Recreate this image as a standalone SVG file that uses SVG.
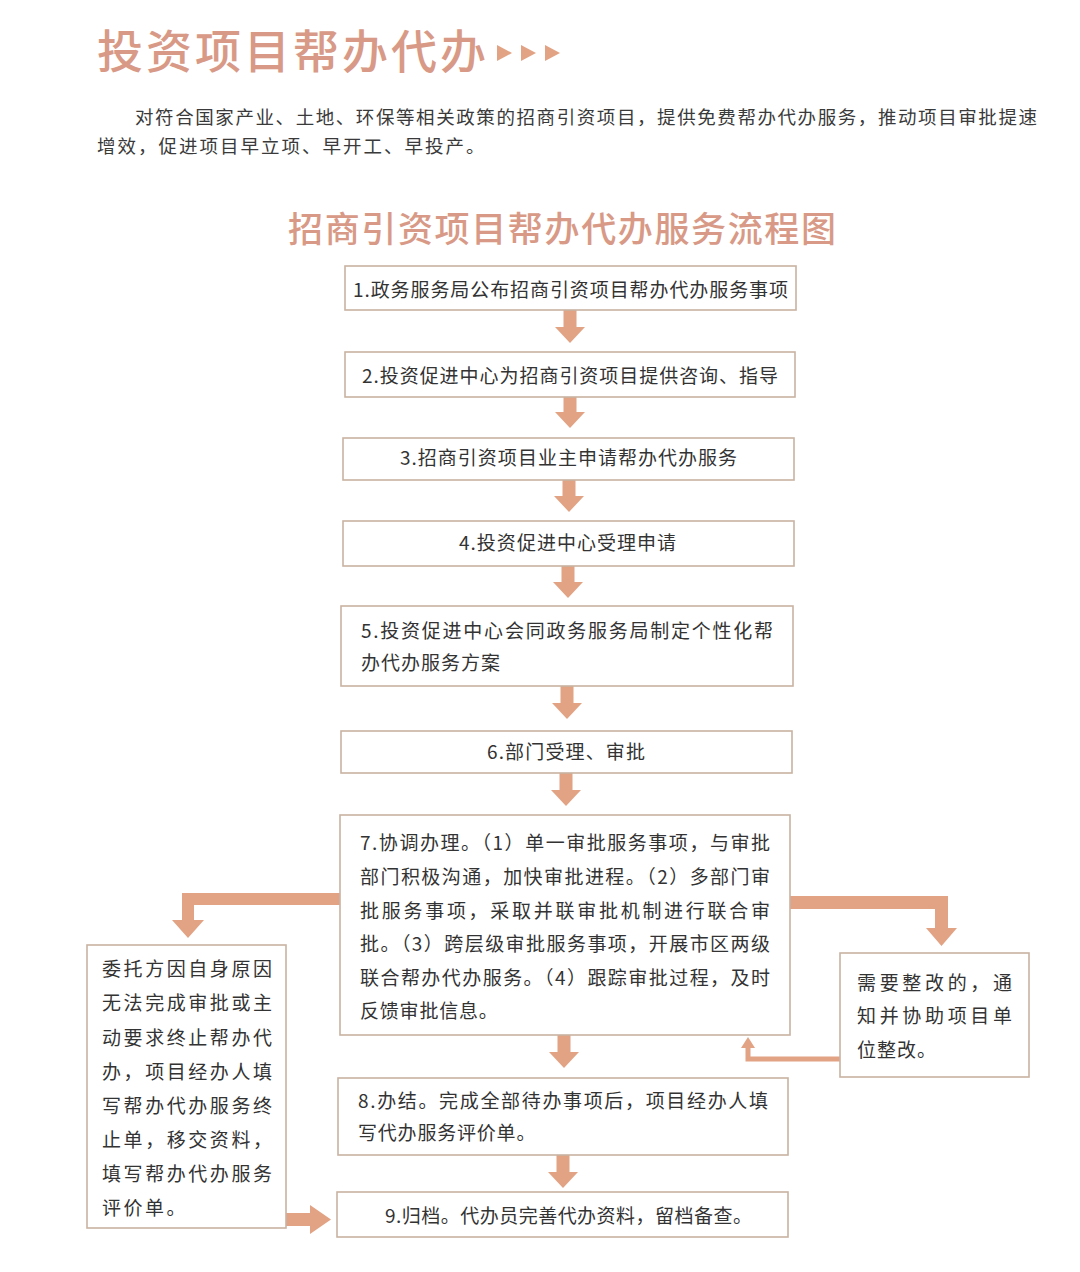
<svg xmlns="http://www.w3.org/2000/svg" width="1080" height="1272" viewBox="0 0 1080 1272">
<style>
text{font-family:"Noto Sans CJK SC","Noto Sans",sans-serif;fill:#333}
.t{fill:#d89a86;font-weight:500}
.p{font-size:18.5px;fill:#3a3a3a}
.b{font-size:19px}
.box{fill:#fff;stroke:#c9b3a2;stroke-width:1.6}
.arr{fill:#e2a384}
.fb{fill:none;stroke:#e2a384;stroke-width:5}
</style>
<rect width="1080" height="1272" fill="#fff"/>
<g id="header">
<text class="t" x="97" y="68" font-size="46" letter-spacing="3">投资项目帮办代办</text>
<polygon class="arr" points="497,45 512,53 497,61"/>
<polygon class="arr" points="521,45 536,53 521,61"/>
<polygon class="arr" points="545,45 560,53 545,61"/>
<text class="p" x="135" y="124" textLength="902" lengthAdjust="spacing">对符合国家产业、土地、环保等相关政策的招商引资项目，提供免费帮办代办服务，推动项目审批提速</text>
<text class="p" x="97" y="153" letter-spacing="2">增效，促进项目早立项、早开工、早投产。</text>
<text class="t" x="288" y="242" font-size="35" textLength="548" lengthAdjust="spacing">招商引资项目帮办代办服务流程图</text>
</g>
<g id="connectors">
<polygon class="arr" points="563.5,310 576.5,310 576.5,327 585,327 570,343 555,327 563.5,327"/>
<polygon class="arr" points="563.5,397 576.5,397 576.5,412 585,412 570,428 555,412 563.5,412"/>
<polygon class="arr" points="562.5,480 575.5,480 575.5,496 584,496 569,512 554,496 562.5,496"/>
<polygon class="arr" points="561.5,566 574.5,566 574.5,582 583,582 568,598 553,582 561.5,582"/>
<polygon class="arr" points="560.5,686 573.5,686 573.5,703 582,703 567,719 552,703 560.5,703"/>
<polygon class="arr" points="559.5,773 572.5,773 572.5,790 581,790 566,806 551,790 559.5,790"/>
<polygon class="arr" points="557.5,1035 570.5,1035 570.5,1052 579,1052 564,1068 549,1052 557.5,1052"/>
<polygon class="arr" points="556.5,1155 569.5,1155 569.5,1172 578,1172 563,1188 548,1172 556.5,1172"/>
<polygon class="arr" points="340,893 182,893 182,920 172,920 188,938 204,920 194,920 194,905 340,905"/>
<polygon class="arr" points="790,896 948,896 948,928 957,928 941.5,946 926,928 935,928 935,909 790,909"/>
<path class="fb" d="M840,1059 H748 V1047"/>
<polygon class="arr" points="741,1048 755,1048 748,1037"/>
<polygon class="arr" points="286,1213 310,1213 310,1205 331,1219.5 310,1234 310,1226 286,1226"/>
</g>
<g id="n1"><rect class="box" x="345" y="266" width="451" height="44"/><text class="b" x="353" y="297" textLength="435" lengthAdjust="spacing">1.政务服务局公布招商引资项目帮办代办服务事项</text></g>
<g id="n2"><rect class="box" x="345" y="352" width="450" height="45"/><text class="b" x="362" y="383" textLength="416" lengthAdjust="spacing">2.投资促进中心为招商引资项目提供咨询、指导</text></g>
<g id="n3"><rect class="box" x="343" y="438" width="451" height="42"/><text class="b" x="400" y="465" textLength="337" lengthAdjust="spacing">3.招商引资项目业主申请帮办代办服务</text></g>
<g id="n4"><rect class="box" x="343" y="521" width="451" height="45"/><text class="b" x="459" y="550" textLength="217" lengthAdjust="spacing">4.投资促进中心受理申请</text></g>
<g id="n5"><rect class="box" x="341" y="606" width="452" height="80"/><text class="b" x="361" y="638" textLength="412" lengthAdjust="spacing">5.投资促进中心会同政务服务局制定个性化帮</text><text class="b" x="361" y="670" letter-spacing="1">办代办服务方案</text></g>
<g id="n6"><rect class="box" x="341" y="731" width="451" height="42"/><text class="b" x="487" y="759" textLength="158" lengthAdjust="spacing">6.部门受理、审批</text></g>
<g id="n7"><rect class="box" x="340" y="815" width="450" height="220"/>
<text class="b" x="360" y="850" textLength="410" lengthAdjust="spacing">7.协调办理。（1）单一审批服务事项，与审批</text>
<text class="b" x="360" y="884" textLength="410" lengthAdjust="spacing">部门积极沟通，加快审批进程。（2）多部门审</text>
<text class="b" x="360" y="918" textLength="410" lengthAdjust="spacing">批服务事项，采取并联审批机制进行联合审</text>
<text class="b" x="360" y="951" textLength="410" lengthAdjust="spacing">批。（3）跨层级审批服务事项，开展市区两级</text>
<text class="b" x="360" y="985" textLength="410" lengthAdjust="spacing">联合帮办代办服务。（4）跟踪审批过程，及时</text>
<text class="b" x="360" y="1018" letter-spacing="0.8">反馈审批信息。</text></g>
<g id="n8"><rect class="box" x="338" y="1078" width="450" height="77"/><text class="b" x="358" y="1108" textLength="410" lengthAdjust="spacing">8.办结。完成全部待办事项后，项目经办人填</text><text class="b" x="358" y="1140" letter-spacing="0.8">写代办服务评价单。</text></g>
<g id="n9"><rect class="box" x="337" y="1192" width="451" height="45"/><text class="b" x="385" y="1223" textLength="367" lengthAdjust="spacing">9.归档。代办员完善代办资料，留档备查。</text></g>
<g id="nL"><rect class="box" x="87" y="945" width="199" height="283"/>
<text class="b" x="102" y="976" textLength="170" lengthAdjust="spacing">委托方因自身原因</text>
<text class="b" x="102" y="1010" textLength="170" lengthAdjust="spacing">无法完成审批或主</text>
<text class="b" x="102" y="1045" textLength="170" lengthAdjust="spacing">动要求终止帮办代</text>
<text class="b" x="102" y="1079" textLength="170" lengthAdjust="spacing">办，项目经办人填</text>
<text class="b" x="102" y="1113" textLength="170" lengthAdjust="spacing">写帮办代办服务终</text>
<text class="b" x="102" y="1147" textLength="170" lengthAdjust="spacing">止单，移交资料，</text>
<text class="b" x="102" y="1181" textLength="170" lengthAdjust="spacing">填写帮办代办服务</text>
<text class="b" x="102" y="1215" letter-spacing="2.5">评价单。</text></g>
<g id="nR"><rect class="box" x="840" y="953" width="189" height="124"/>
<text class="b" x="857" y="990" font-size="18" textLength="155" lengthAdjust="spacing">需要整改的，通</text>
<text class="b" x="857" y="1023" font-size="18" textLength="155" lengthAdjust="spacing">知并协助项目单</text>
<text class="b" x="857" y="1057" font-size="18" letter-spacing="1">位整改。</text></g>
</svg>
